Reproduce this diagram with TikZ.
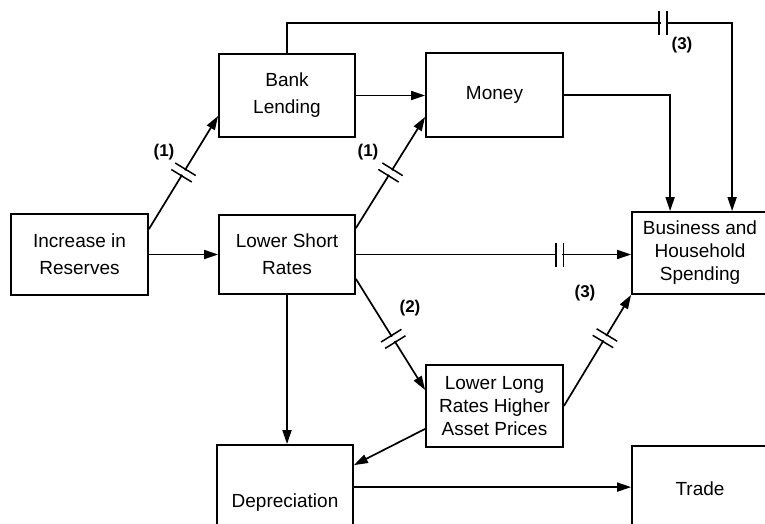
\documentclass[tikz,border=0pt]{standalone}
\usepackage{fontspec}
\setmainfont{Liberation Sans}
\usetikzlibrary{arrows.meta,decorations.markings,calc}
\begin{document}
\begin{tikzpicture}[x=1pt,y=-1pt,
  box/.style={draw, line width=1.8pt, inner sep=0pt, align=center},
  twol/.style={font=\fontsize{19}{27}\selectfont},
  thrl/.style={font=\fontsize{19}{23}\selectfont},
  conn/.style={line width=1.7pt, -{Triangle[length=14pt,width=9pt]}},
  lbl/.style={font=\fontsize{17}{19}\selectfont\bfseries, inner sep=0pt},
  brk/.style={postaction={decorate,decoration={markings,mark=at position #1 with {
      \fill[white] (-2.5pt,-3pt) rectangle (2.5pt,3pt);
      \draw[-,line width=1.5pt] (-3.8pt,-12pt) -- (-3.8pt,12pt) (3.8pt,-12pt) -- (3.8pt,12pt);}}}}
]
\useasboundingbox (0,0) rectangle (765,524);

\node[box, twol, minimum width=137pt, minimum height=81pt] (inc) at (79.5,254.5) {Increase in\\Reserves};
\node[box, twol, minimum width=136pt, minimum height=83pt] (bank) at (287,95.5) {Bank\\Lending};
\node[box, twol, minimum width=136pt, minimum height=79pt] (short) at (287,254.5) {Lower Short\\Rates};
\node[box, twol, minimum width=137pt, minimum height=84pt] (money) at (494.5,95) {Money};
\node[box, thrl, minimum width=136pt, minimum height=82pt] (bus) at (700,253) {Business and\\Household\\Spending};
\node[box, thrl, minimum width=137pt, minimum height=82pt] (long) at (494.5,406) {Lower Long\\Rates Higher\\Asset Prices};
\node[box, twol, minimum width=136pt, minimum height=116pt] (dep) at (285,503) {Depreciation};
\node[box, twol, minimum width=136pt, minimum height=86pt] (trade) at (700,489) {Trade};

\draw[conn, brk=0.5] ($(inc.north east)+(0,16)$) -- ($(bank.south west)+(0,-22)$);
\draw[conn] (inc.east) -- (short.west);
\draw[conn] (bank.east) -- (bank.east -| money.west);
\draw[conn, brk=0.5] ($(short.north east)+(0,14)$) -- ($(money.south west)+(0,-21)$);
\draw[conn, brk=0.74] (short.east) -- (short.east -| bus.west);
\draw[conn, brk=0.54] ($(short.south east)+(0,-16)$) -- ($(long.west)+(0,-16)$);
\draw[conn, brk=0.61] (long.east) -- (bus.south west);
\draw[conn] ($(long.south west)+(0,-19)$) -- ($(dep.north east)+(0,21)$);
\draw[conn] (short.south) -- (short.south |- dep.north);
\draw[conn] ($(dep.north east)+(0,43)$) -- ($(trade.north west)+(0,42)$);
\coordinate (mc) at ($(bus.north west)+(39,0)$);
\draw[conn] (money.east) -| (mc);
\coordinate (tc) at ($(bus.north west)+(101,0)$);
\draw[conn, brk=406pt] (bank.north) -- ++(0,-30) -| (tc);

\node[lbl] (l1a) at (164,152) {(1)};
\node[lbl] (l1b) at (368,152) {(1)};
\node[lbl] (l2) at (410,308) {(2)};
\node[lbl] (l3a) at (682,45) {(3)};
\node[lbl] (l3b) at (585,293) {(3)};
\end{tikzpicture}
\end{document}
